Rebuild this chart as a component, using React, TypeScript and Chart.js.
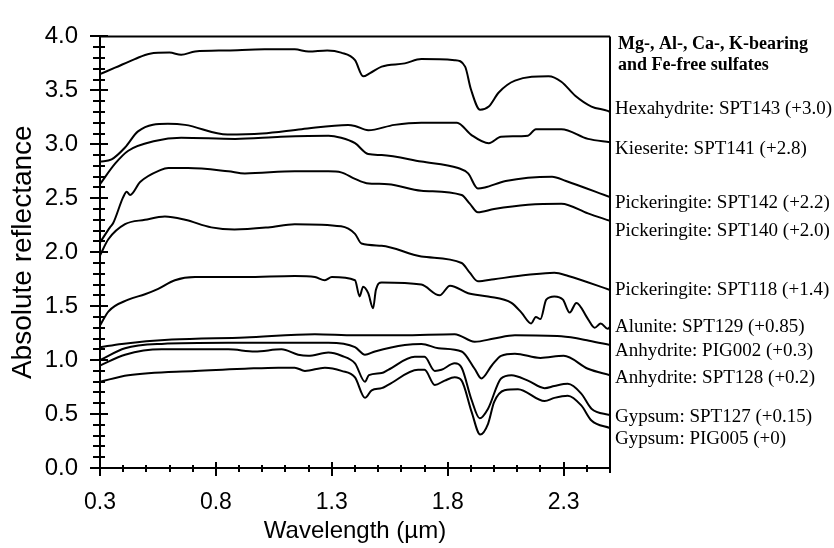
import React, { useEffect, useRef } from "react";
import { Chart, registerables } from "chart.js";

Chart.register(...registerables);

// ---------- tick values ----------
const xMajorTicks = [0.3, 0.8, 1.3, 1.8, 2.3];
const xMinorTicks = [0.4, 0.5, 0.6, 0.7, 0.9, 1.0, 1.1, 1.2, 1.4, 1.5, 1.6, 1.7, 1.9, 2.0, 2.1, 2.2, 2.4];
const yMajorTicks = [0.0, 0.5, 1.0, 1.5, 2.0, 2.5, 3.0, 3.5, 4.0];
const yMinorTicks = [
  0.1, 0.2, 0.3, 0.4, 0.6, 0.7, 0.8, 0.9, 1.1, 1.2, 1.3, 1.4, 1.6, 1.7, 1.8, 1.9,
  2.1, 2.2, 2.3, 2.4, 2.6, 2.7, 2.8, 2.9, 3.1, 3.2, 3.3, 3.4, 3.6, 3.7, 3.8, 3.9,
];

// ---------- spectra (wavelength µm / offset reflectance) ----------
const hexWl = [0.3, 0.365, 0.45, 0.515, 0.6, 0.65, 0.71, 0.85, 1.01, 1.14, 1.2, 1.28, 1.34, 1.4, 1.435, 1.465, 1.515, 1.615, 1.686, 1.83, 1.875, 1.9, 1.94, 1.977, 2.02, 2.09, 2.235, 2.29, 2.35, 2.42, 2.49, 2.5];
const hexR = [3.65, 3.71, 3.79, 3.84, 3.85, 3.83, 3.86, 3.87, 3.88, 3.88, 3.86, 3.87, 3.85, 3.78, 3.63, 3.66, 3.72, 3.75, 3.79, 3.78, 3.72, 3.51, 3.32, 3.35, 3.48, 3.59, 3.63, 3.58, 3.45, 3.35, 3.31, 3.3];

const kieWl = [0.3, 0.35, 0.408, 0.464, 0.593, 0.667, 0.85, 1.0, 1.17, 1.37, 1.4, 1.457, 1.57, 1.686, 1.84, 1.9, 1.977, 2.03, 2.146, 2.18, 2.29, 2.405, 2.5];
const kieR = [2.84, 2.86, 2.97, 3.12, 3.19, 3.18, 3.09, 3.1, 3.14, 3.18, 3.17, 3.13, 3.18, 3.2, 3.2, 3.09, 3.01, 3.07, 3.08, 3.14, 3.14, 3.05, 3.02];

const p142Wl = [0.3, 0.365, 0.422, 0.537, 0.65, 0.883, 1.08, 1.286, 1.34, 1.4, 1.457, 1.515, 1.686, 1.845, 1.888, 1.93, 1.96, 2.05, 2.25, 2.31, 2.5];
const p142R = [2.63, 2.82, 2.94, 3.03, 3.06, 3.05, 3.07, 3.08, 3.06, 3.01, 2.91, 2.9, 2.84, 2.78, 2.73, 2.59, 2.6, 2.66, 2.7, 2.66, 2.51];

const p140Wl = [0.3, 0.343, 0.357, 0.4, 0.415, 0.43, 0.473, 0.56, 0.595, 0.68, 0.853, 0.925, 1.14, 1.285, 1.34, 1.4, 1.45, 1.543, 1.686, 1.86, 1.895, 1.93, 2.0, 2.146, 2.29, 2.405, 2.5];
const p140R = [2.09, 2.23, 2.27, 2.51, 2.56, 2.53, 2.65, 2.76, 2.78, 2.78, 2.75, 2.73, 2.75, 2.75, 2.74, 2.68, 2.64, 2.63, 2.57, 2.53, 2.45, 2.37, 2.4, 2.44, 2.45, 2.36, 2.29];

const p118Wl = [0.3, 0.336, 0.408, 0.494, 0.58, 0.667, 0.78, 0.88, 1.025, 1.14, 1.34, 1.4, 1.428, 1.515, 1.686, 1.86, 1.895, 1.93, 2.0, 2.146, 2.26, 2.32, 2.5];
const p118R = [1.97, 2.12, 2.26, 2.3, 2.33, 2.3, 2.23, 2.21, 2.23, 2.26, 2.24, 2.17, 2.08, 2.06, 1.96, 1.9, 1.81, 1.73, 1.75, 1.79, 1.81, 1.78, 1.65];

const aluWl = [0.3, 0.336, 0.422, 0.494, 0.551, 0.623, 0.71, 0.925, 1.14, 1.227, 1.27, 1.3, 1.4, 1.42, 1.435, 1.457, 1.478, 1.49, 1.515, 1.686, 1.765, 1.81, 1.888, 1.974, 2.075, 2.118, 2.16, 2.18, 2.2, 2.225, 2.26, 2.297, 2.326, 2.355, 2.405, 2.434, 2.46, 2.49, 2.5];
const aluR = [1.32, 1.45, 1.56, 1.61, 1.66, 1.74, 1.77, 1.77, 1.78, 1.77, 1.74, 1.77, 1.74, 1.59, 1.68, 1.62, 1.48, 1.65, 1.72, 1.7, 1.6, 1.69, 1.62, 1.59, 1.53, 1.44, 1.34, 1.4, 1.38, 1.56, 1.59, 1.56, 1.44, 1.53, 1.38, 1.3, 1.34, 1.29, 1.31];

const anh002Wl = [0.3, 0.394, 0.61, 0.925, 1.227, 1.4, 1.6, 1.83, 1.916, 2.0, 2.09, 2.29, 2.41, 2.5];
const anh002R = [1.12, 1.15, 1.19, 1.21, 1.24, 1.23, 1.23, 1.24, 1.17, 1.2, 1.23, 1.22, 1.18, 1.14];

const anh128Wl = [0.3, 0.408, 0.566, 0.853, 1.14, 1.285, 1.4, 1.443, 1.486, 1.615, 1.687, 1.76, 1.86, 1.916, 1.945, 1.99, 2.03, 2.09, 2.2, 2.3, 2.405, 2.5];
const anh128R = [1.0, 1.11, 1.15, 1.16, 1.16, 1.16, 1.12, 1.05, 1.08, 1.14, 1.15, 1.11, 1.08, 0.92, 0.83, 0.95, 1.04, 1.06, 1.02, 1.04, 0.92, 0.86];

const gyp127Wl = [0.3, 0.408, 0.566, 0.853, 0.968, 1.083, 1.155, 1.198, 1.285, 1.342, 1.4, 1.443, 1.46, 1.515, 1.543, 1.658, 1.7, 1.744, 1.773, 1.83, 1.86, 1.903, 1.938, 1.974, 2.03, 2.075, 2.146, 2.218, 2.26, 2.318, 2.376, 2.42, 2.5];
const gyp127R = [0.95, 1.05, 1.1, 1.1, 1.08, 1.1, 1.05, 1.04, 1.07, 1.04, 0.97, 0.8, 0.86, 0.88, 0.91, 1.03, 1.03, 0.9, 0.91, 0.97, 0.93, 0.63, 0.46, 0.55, 0.83, 0.86, 0.81, 0.74, 0.76, 0.78, 0.69, 0.55, 0.49];

const gyp005Wl = [0.3, 0.422, 0.71, 0.925, 1.069, 1.14, 1.184, 1.27, 1.342, 1.4, 1.443, 1.472, 1.515, 1.543, 1.672, 1.7, 1.744, 1.787, 1.83, 1.86, 1.903, 1.94, 1.974, 2.0, 2.045, 2.103, 2.218, 2.26, 2.318, 2.376, 2.42, 2.5];
const gyp005R = [0.8, 0.86, 0.9, 0.92, 0.93, 0.93, 0.9, 0.93, 0.9, 0.84, 0.65, 0.72, 0.74, 0.77, 0.91, 0.91, 0.77, 0.81, 0.84, 0.81, 0.52, 0.31, 0.41, 0.61, 0.72, 0.73, 0.62, 0.65, 0.67, 0.58, 0.44, 0.37];

// ---------- labels ----------
const seriesNames = [
  "Hexahydrite: SPT143 (+3.0)",
  "Kieserite: SPT141 (+2.8)",
  "Pickeringite: SPT142 (+2.2)",
  "Pickeringite: SPT140 (+2.0)",
  "Pickeringite: SPT118 (+1.4)",
  "Alunite: SPT129 (+0.85)",
  "Anhydrite: PIG002 (+0.3)",
  "Anhydrite: SPT128 (+0.2)",
  "Gypsum: SPT127 (+0.15)",
  "Gypsum: PIG005 (+0)",
];
// reflectance level at which each label's baseline sits
const labelLevels = [3.285, 2.913, 2.41, 2.154, 1.603, 1.26, 1.037, 0.784, 0.427, 0.218];
const titleLines = ["Mg-, Al-, Ca-, K-bearing", "and Fe-free sulfates"];
const titleLevels = [3.882, 3.688];

const wlArrays = [hexWl, kieWl, p142Wl, p140Wl, p118Wl, aluWl, anh002Wl, anh128Wl, gyp127Wl, gyp005Wl];
const rArrays = [hexR, kieR, p142R, p140R, p118R, aluR, anh002R, anh128R, gyp127R, gyp005R];

const framePlugin = {
  id: "frameTicks",
  afterDraw(chart: any) {
    const { ctx, chartArea } = chart;
    const xs = chart.scales.x;
    const ys = chart.scales.y;
    const { left, right, top, bottom } = chartArea;
    ctx.save();
    ctx.strokeStyle = "#000";
    ctx.lineWidth = 2;
    ctx.lineCap = "butt";
    ctx.beginPath();
    // frame
    ctx.moveTo(left, top);
    ctx.lineTo(right, top);
    ctx.moveTo(right, top);
    ctx.lineTo(right, bottom + 5);
    ctx.moveTo(left, top);
    ctx.lineTo(left, bottom);
    ctx.moveTo(left - 1, bottom);
    ctx.lineTo(right, bottom);
    // y ticks
    yMajorTicks.forEach((v) => {
      const y = Math.round(ys.getPixelForValue(v));
      ctx.moveTo(left - 10, y);
      ctx.lineTo(left + 8, y);
    });
    yMinorTicks.forEach((v) => {
      const y = Math.round(ys.getPixelForValue(v));
      ctx.moveTo(left - 7, y);
      ctx.lineTo(left + 5, y);
    });
    // x ticks
    xMajorTicks.forEach((v) => {
      const x = Math.round(xs.getPixelForValue(v));
      ctx.moveTo(x, bottom - 6);
      ctx.lineTo(x, bottom + 8);
    });
    xMinorTicks.forEach((v) => {
      const x = Math.round(xs.getPixelForValue(v));
      ctx.moveTo(x, bottom - 3);
      ctx.lineTo(x, bottom + 4);
    });
    ctx.stroke();

    // right side labels
    ctx.fillStyle = "#000";
    ctx.textAlign = "left";
    ctx.textBaseline = "alphabetic";
    ctx.font = "bold 18px 'Liberation Serif', 'Times New Roman', serif";
    titleLines.forEach((t, i) => {
      ctx.fillText(t, right + 8, ys.getPixelForValue(titleLevels[i]));
    });
    ctx.font = "19px 'Liberation Serif', 'Times New Roman', serif";
    seriesNames.forEach((t, i) => {
      ctx.fillText(t, right + 5, ys.getPixelForValue(labelLevels[i]));
    });
    ctx.restore();
  },
};

export default function App() {
  const canvasRef = useRef<HTMLCanvasElement | null>(null);

  useEffect(() => {
    if (!canvasRef.current) return;
    const datasets = seriesNames.map((name, i) => ({
      label: name,
      data: wlArrays[i].map((w, j) => ({ x: w, y: rArrays[i][j] })),
      borderColor: "#000",
      borderWidth: 2,
      pointRadius: 0,
      fill: false,
      cubicInterpolationMode: "monotone" as const,
    }));
    const chart = new Chart(canvasRef.current, {
      type: "line",
      data: { datasets },
      options: {
        animation: false,
        responsive: false,
        devicePixelRatio: 1,
        layout: { padding: { left: 0, top: 20, right: 224, bottom: 0 } },
        plugins: { legend: { display: false }, tooltip: { enabled: false } },
        scales: {
          x: {
            type: "linear",
            min: 0.3,
            max: 2.5,
            grid: { display: false, drawTicks: false },
            border: { display: false },
            afterBuildTicks: (scale: any) => {
              scale.ticks = xMajorTicks.map((v) => ({ value: v }));
            },
            afterFit: (scale: any) => {
              scale.height = 80;
            },
            ticks: {
              color: "#000",
              padding: 21,
              maxRotation: 0,
              autoSkip: false,
              font: { family: "'Liberation Sans', Arial, sans-serif", size: 23 },
              callback: (v: any) => Number(v).toFixed(1),
            },
            title: {
              display: true,
              text: "Wavelength (µm)",
              color: "#000",
              font: { family: "'Liberation Sans', Arial, sans-serif", size: 24 },
              padding: { top: 0, bottom: 2 },
            },
          },
          y: {
            type: "linear",
            min: 0,
            max: 4,
            grid: { display: false, drawTicks: false },
            border: { display: false },
            afterBuildTicks: (scale: any) => {
              scale.ticks = yMajorTicks.map((v) => ({ value: v }));
            },
            afterFit: (scale: any) => {
              scale.width = 100;
            },
            ticks: {
              color: "#000",
              padding: 22,
              autoSkip: false,
              font: { family: "'Liberation Sans', Arial, sans-serif", size: 24 },
              callback: (v: any) => Number(v).toFixed(1),
            },
            title: {
              display: true,
              text: "Absolute reflectance",
              color: "#000",
              font: { family: "'Liberation Sans', Arial, sans-serif", size: 28 },
              padding: { top: 6, bottom: 0 },
            },
          },
        },
      },
      plugins: [framePlugin],
    });
    return () => chart.destroy();
  }, []);

  return (
    <div style={{ position: "absolute", left: 0, top: 0, width: 834, height: 548, background: "#fff" }}>
      <canvas ref={canvasRef} width={834} height={548} />
    </div>
  );
}
